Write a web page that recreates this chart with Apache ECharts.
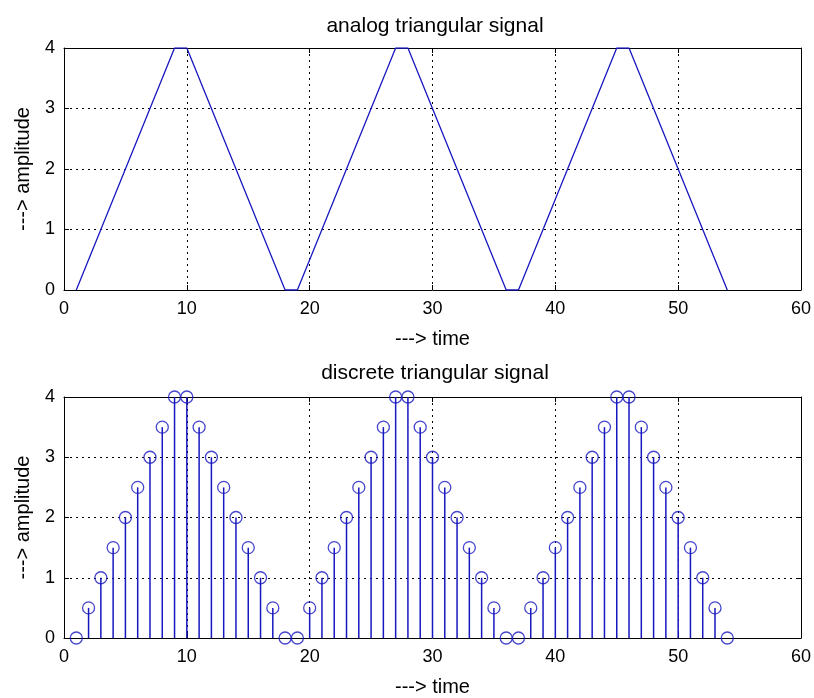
<!DOCTYPE html>
<html>
<head>
<meta charset="utf-8">
<script src="https://cdn.jsdelivr.net/npm/echarts@6/dist/echarts.min.js"></script>
<style>
  html, body { margin: 0; padding: 0; background: #ffffff; }
  #chart { width: 814px; height: 698px; }
</style>
</head>
<body>
<div id="chart"></div>
<script>
// sample instants n = 1 .. 54
const timeSamples = [
  1, 2, 3, 4, 5, 6, 7, 8, 9, 10, 11, 12, 13, 14, 15, 16, 17, 18,
  19, 20, 21, 22, 23, 24, 25, 26, 27, 28, 29, 30, 31, 32, 33, 34, 35, 36,
  37, 38, 39, 40, 41, 42, 43, 44, 45, 46, 47, 48, 49, 50, 51, 52, 53, 54
];
// triangular wave amplitude, three periods
const amplitude = [
  0, 0.5, 1, 1.5, 2, 2.5, 3, 3.5, 4, 4, 3.5, 3, 2.5, 2, 1.5, 1, 0.5, 0,
  0, 0.5, 1, 1.5, 2, 2.5, 3, 3.5, 4, 4, 3.5, 3, 2.5, 2, 1.5, 1, 0.5, 0,
  0, 0.5, 1, 1.5, 2, 2.5, 3, 3.5, 4, 4, 3.5, 3, 2.5, 2, 1.5, 1, 0.5, 0
];
const xTicks = [0, 10, 20, 30, 40, 50, 60];
const yTicks = [0, 1, 2, 3, 4];
const titles = ['analog triangular signal', 'discrete triangular signal'];
const xName = '---> time';
const yName = '---> amplitude';

const points = timeSamples.map((t, i) => [t, amplitude[i]]);

const FONT = 'Liberation Sans, Arial, sans-serif';
const BLUE = '#1818c0';

function xAxisFor(gridIndex, pos) {
  const main = pos === 'bottom';
  return {
    type: 'value', gridIndex, position: pos,
    min: xTicks[0], max: xTicks[xTicks.length - 1], interval: 10,
    name: main ? xName : '', nameLocation: 'middle', nameGap: 39,
    nameTextStyle: { fontFamily: FONT, fontSize: 20, color: '#000' },
    axisLine: { onZero: false, lineStyle: { color: '#000', width: 1 } },
    axisTick: { show: true, inside: true, length: 5, lineStyle: { color: '#000' } },
    axisLabel: { show: main, margin: 10, fontFamily: FONT, fontSize: 18, color: '#000' },
    splitLine: { show: main, lineStyle: { color: '#000', width: 1, type: [2, 4] } }
  };
}
function yAxisFor(gridIndex, pos) {
  const main = pos === 'left';
  return {
    type: 'value', gridIndex, position: pos,
    min: yTicks[0], max: yTicks[yTicks.length - 1], interval: 1,
    name: main ? yName : '', nameLocation: 'middle', nameGap: 31,
    nameTextStyle: { fontFamily: FONT, fontSize: 20, color: '#000' },
    axisLine: { show: true, onZero: false, lineStyle: { color: '#000', width: 1 } },
    axisTick: { show: true, inside: true, length: 5, lineStyle: { color: '#000' } },
    axisLabel: { show: main, margin: 9, fontFamily: FONT, fontSize: 18, color: '#000' },
    splitLine: { show: main, lineStyle: { color: '#000', width: 1, type: [2, 4] } }
  };
}

const chart = echarts.init(document.getElementById('chart'), null, { renderer: 'canvas' });
chart.setOption({
  backgroundColor: '#ffffff',
  animation: false,
  title: [
    { text: titles[0], left: 430, top: 11, textAlign: 'center',
      textStyle: { fontFamily: FONT, fontSize: 21, fontWeight: 'normal', color: '#000' } },
    { text: titles[1], left: 430, top: 358, textAlign: 'center',
      textStyle: { fontFamily: FONT, fontSize: 21, fontWeight: 'normal', color: '#000' } }
  ],
  grid: [
    { left: 64, right: 13, top: 48, height: 242 },
    { left: 64, right: 13, top: 397, height: 242 }
  ],
  xAxis: [xAxisFor(0, 'bottom'), xAxisFor(1, 'bottom'), xAxisFor(0, 'top'), xAxisFor(1, 'top')],
  yAxis: [yAxisFor(0, 'left'), yAxisFor(1, 'left'), yAxisFor(0, 'right'), yAxisFor(1, 'right')],
  series: [
    {
      // continuous plot
      type: 'line', xAxisIndex: 0, yAxisIndex: 0,
      data: points, showSymbol: false, symbol: 'none',
      lineStyle: { color: BLUE, width: 1.3 }
    },
    {
      // stems
      type: 'bar', xAxisIndex: 1, yAxisIndex: 1,
      data: points, barWidth: 1.5,
      itemStyle: { color: BLUE }
    },
    {
      // stem heads
      type: 'scatter', xAxisIndex: 1, yAxisIndex: 1,
      data: points, symbol: 'circle', symbolSize: 12, clip: false,
      itemStyle: { color: 'rgba(0,0,0,0)', borderColor: BLUE, borderWidth: 1.3 },
      z: 5
    }
  ]
});
</script>
</body>
</html>
